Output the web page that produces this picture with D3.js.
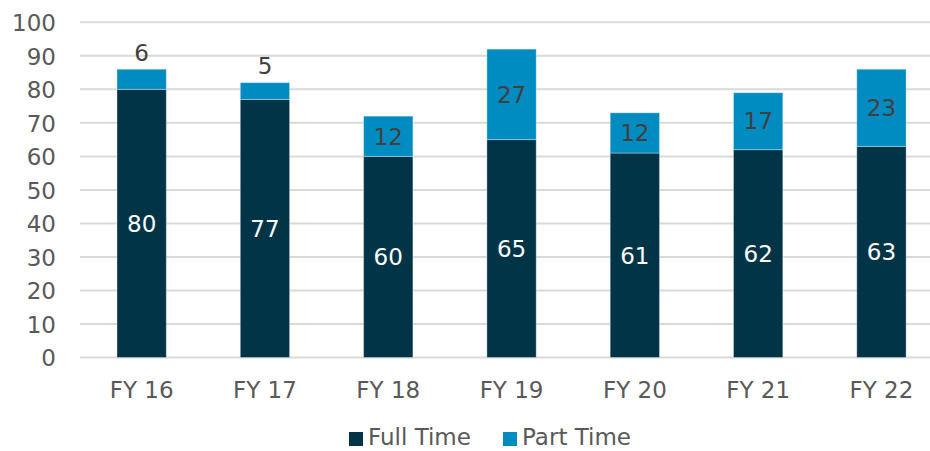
<!DOCTYPE html>
<html><head><meta charset="utf-8">
<script src="https://cdn.jsdelivr.net/npm/d3@7"></script>
<style>
body{margin:0;background:#fff;}
svg{display:block;font-family:"DejaVu Sans",Verdana,sans-serif;}
</style></head><body>
<svg id="c" width="930" height="451"></svg>
<script>
const categories = ["FY 16","FY 17","FY 18","FY 19","FY 20","FY 21","FY 22"];
const fullTime = [80,77,60,65,61,62,63];
const partTime = [6,5,12,27,12,17,23];
const yTicks = [0,10,20,30,40,50,60,70,80,90,100];
const seriesNames = ["Full Time","Part Time"];
const colors = ["#023447","#008CC1"];

const FS = 23;
const svg = d3.select("#c");
const left = 80, bandW = 123.3;
const x = d3.scaleBand().domain(categories).range([left, left + bandW*categories.length]).paddingInner(0.6).paddingOuter(0.3);
const y = d3.scaleLinear().domain([0,100]).range([357.5,22.3]);

// gridlines
svg.append("g").selectAll("line").data(yTicks).join("line")
  .attr("x1",left).attr("x2",930)
  .attr("y1",d=>y(d)).attr("y2",d=>y(d))
  .attr("stroke","#d9d9d9").attr("stroke-width",2);

// y axis labels
const yAxis = d3.axisLeft(y).tickValues(yTicks).tickSize(0).tickPadding(0);
const ya = svg.append("g").attr("transform","translate(56,0)").call(yAxis);
ya.select(".domain").remove();
ya.selectAll("text").attr("font-size",FS).attr("fill","#595959").attr("font-family","DejaVu Sans, Verdana, sans-serif")
  .attr("dy","0.36em");

// x axis labels
const xAxis = d3.axisBottom(x).tickSize(0).tickPadding(0);
const xa = svg.append("g").attr("transform","translate(0,398)").call(xAxis);
xa.select(".domain").remove();
xa.selectAll("text").attr("font-size",FS).attr("fill","#595959").attr("font-family","DejaVu Sans, Verdana, sans-serif")
  .attr("dy","0").attr("y",0);

const stackData = categories.map((c,i)=>({cat:c, ft:fullTime[i], pt:partTime[i]}));
const stack = d3.stack().keys(["ft","pt"])(stackData);

stack.forEach((layer,li)=>{
  const g = svg.append("g");
  g.selectAll("rect").data(layer).join("rect")
    .attr("x",d=>x(d.data.cat))
    .attr("width",x.bandwidth())
    .attr("y",d=>y(d[1]))
    .attr("height",d=>y(d[0])-y(d[1]))
    .attr("fill",colors[li])
    .attr("stroke","rgba(255,255,255,0.35)").attr("stroke-width",1);
  g.selectAll("text").data(layer).join("text")
    .attr("x",d=>x(d.data.cat)+x.bandwidth()/2)
    .attr("y",d=>{
      const h = y(d[0])-y(d[1]);
      if (h < 25) return y(d[1]) - 17;
      return (y(d[0])+y(d[1]))/2;
    })
    .attr("dy","0.36em")
    .attr("text-anchor","middle")
    .attr("font-size",FS)
    .attr("fill", li===0 ? "#ffffff" : "#404040")
    .text(d=>d[1]-d[0]);
});

// legend
const legend = svg.append("g");
const legX = [349, 503];
seriesNames.forEach((n,i)=>{
  legend.append("rect").attr("x",legX[i]).attr("y",432).attr("width",14).attr("height",14).attr("fill",colors[i]);
  legend.append("text").attr("x",legX[i]+19).attr("y",445)
    .attr("font-size",FS).attr("fill","#595959").text(n);
});
</script>
</body></html>
